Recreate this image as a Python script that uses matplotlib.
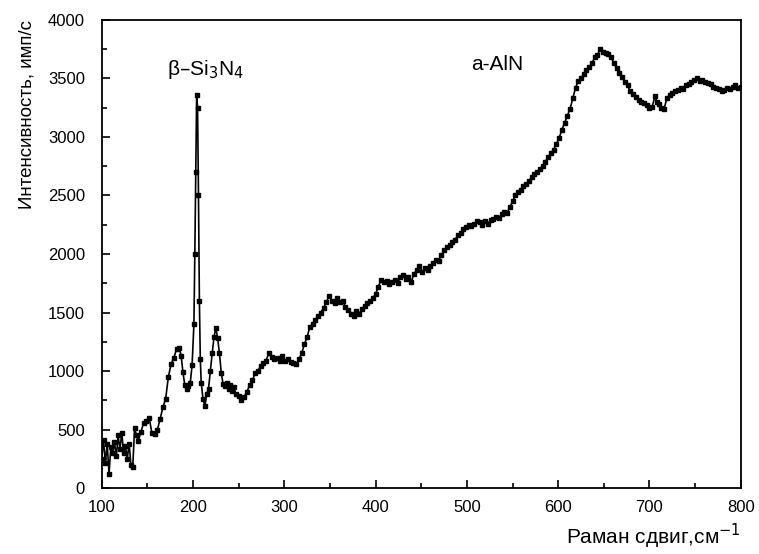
import matplotlib.pyplot as plt
from matplotlib.ticker import MultipleLocator

plt.rcParams['font.family'] = ['Liberation Sans', 'DejaVu Sans']

# Раман спектр, значения
shift = [100, 102, 104, 106, 108, 110, 112, 114, 116, 118, 120, 122, 124, 126, 128,
         130, 132, 134, 136, 138, 140, 143, 146, 149, 152, 155, 158, 161, 164, 167,
         170, 173, 176, 179, 182, 185, 187, 189, 191, 193, 195, 197, 199, 201, 202,
         203, 204, 205, 206, 207, 208, 209, 211, 213, 215, 217, 219, 221, 223, 225,
         227, 229, 231, 233, 235, 237, 239, 241, 243, 245, 247, 250, 253, 256, 259,
         262, 265, 268, 271, 274, 277, 280, 283, 286, 289, 292, 295, 298, 301, 304,
         307, 310, 313, 316, 319, 322, 325, 328, 331, 334, 337, 340, 343, 346, 349,
         352, 355, 358, 361, 364, 367, 370, 373, 376, 379, 382, 385, 388, 391, 394,
         397, 400, 403, 406, 409, 412, 415, 418, 421, 424, 427, 430, 433, 436, 439,
         442, 445, 448, 451, 454, 457, 460, 463, 466, 469, 472, 475, 478, 481, 484,
         487, 490, 493, 496, 499, 502, 505, 508, 511, 514, 517, 520, 523, 526, 529,
         532, 535, 538, 541, 544, 547, 550, 553, 556, 559, 562, 565, 568, 571, 574,
         577, 580, 583, 586, 589, 592, 595, 598, 601, 604, 607, 610, 613, 616, 619,
         622, 625, 628, 631, 634, 637, 640, 643, 646, 649, 652, 655, 658, 661, 664,
         667, 670, 673, 676, 679, 682, 685, 688, 691, 694, 697, 700, 703, 706, 708,
         710, 713, 716, 719, 722, 725, 728, 731, 734, 737, 740, 743, 746, 749, 752,
         755, 758, 761, 764, 767, 770, 773, 776, 779, 782, 785, 788, 791, 794, 797,
         800]
intensity = [250, 410, 210, 380, 120, 350, 300, 390, 270, 450, 330, 470, 300, 360, 250,
             380, 200, 180, 510, 450, 400, 480, 560, 570, 600, 470, 460, 500, 590, 690,
             760, 950, 1060, 1110, 1190, 1200, 1130, 990, 880, 850, 870, 900, 1050, 1400, 2000,
             2700, 3360, 3250, 2500, 1600, 1100, 900, 760, 700, 800, 850, 1000, 1150, 1290, 1370,
             1280, 1150, 980, 890, 870, 900, 850, 880, 830, 860, 800, 790, 750, 780, 820,
             880, 920, 980, 1000, 1040, 1070, 1090, 1150, 1120, 1100, 1110, 1090, 1130, 1090, 1100,
             1080, 1070, 1060, 1100, 1150, 1230, 1290, 1380, 1400, 1440, 1470, 1500, 1540, 1590, 1640,
             1600, 1580, 1620, 1590, 1600, 1550, 1520, 1490, 1470, 1510, 1490, 1530, 1560, 1580, 1600,
             1620, 1660, 1720, 1780, 1760, 1770, 1740, 1760, 1780, 1750, 1800, 1820, 1790, 1800, 1760,
             1830, 1860, 1900, 1850, 1880, 1860, 1900, 1920, 1950, 1940, 1990, 2030, 2060, 2080, 2100,
             2120, 2160, 2180, 2210, 2230, 2250, 2240, 2260, 2280, 2270, 2250, 2280, 2260, 2290, 2300,
             2320, 2310, 2340, 2360, 2350, 2400, 2450, 2500, 2530, 2550, 2580, 2600, 2620, 2660, 2680,
             2700, 2730, 2750, 2790, 2830, 2860, 2890, 2940, 2990, 3060, 3120, 3180, 3240, 3330, 3420,
             3480, 3500, 3540, 3570, 3600, 3630, 3680, 3700, 3750, 3730, 3720, 3710, 3680, 3630, 3590,
             3550, 3510, 3470, 3440, 3390, 3370, 3340, 3320, 3300, 3290, 3270, 3250, 3260, 3350, 3300,
             3280, 3250, 3240, 3330, 3360, 3380, 3390, 3400, 3420, 3410, 3440, 3450, 3470, 3490, 3500,
             3480, 3490, 3470, 3460, 3450, 3430, 3420, 3410, 3390, 3400, 3420, 3410, 3430, 3440, 3420,
             3430]

fig = plt.figure(figsize=(7.59, 5.54), dpi=100)
ax = fig.add_axes([0.134, 0.119, 0.842, 0.845])

ax.plot(shift, intensity, color='black', lw=1.2, marker='s', ms=2.5)

ax.set_xlim(100, 800)
ax.set_ylim(0, 4000)
ax.xaxis.set_major_locator(MultipleLocator(100))
ax.xaxis.set_minor_locator(MultipleLocator(50))
ax.yaxis.set_major_locator(MultipleLocator(500))
ax.yaxis.set_minor_locator(MultipleLocator(250))
ax.tick_params(which='both', direction='in', top=False, right=False, labelsize=12, width=1.2)
ax.tick_params(which='major', length=6)
ax.tick_params(which='minor', length=3.5)
ax.tick_params(axis='x', which='major', pad=8.5)
ax.tick_params(axis='y', which='major', pad=12)
for s in ax.spines.values():
    s.set_linewidth(1.3)

ax.set_xlabel('Раман сдвиг,см$^{-1}$', fontsize=15, loc='right', labelpad=5)
ax.set_ylabel('Интенсивность, имп/с', fontsize=13.5, loc='top', labelpad=9)

ax.text(172, 3530, 'β–Si$_3$N$_4$', fontsize=15)
ax.text(505, 3573, 'a-AlN', fontsize=15)

fig.savefig('out.png')
